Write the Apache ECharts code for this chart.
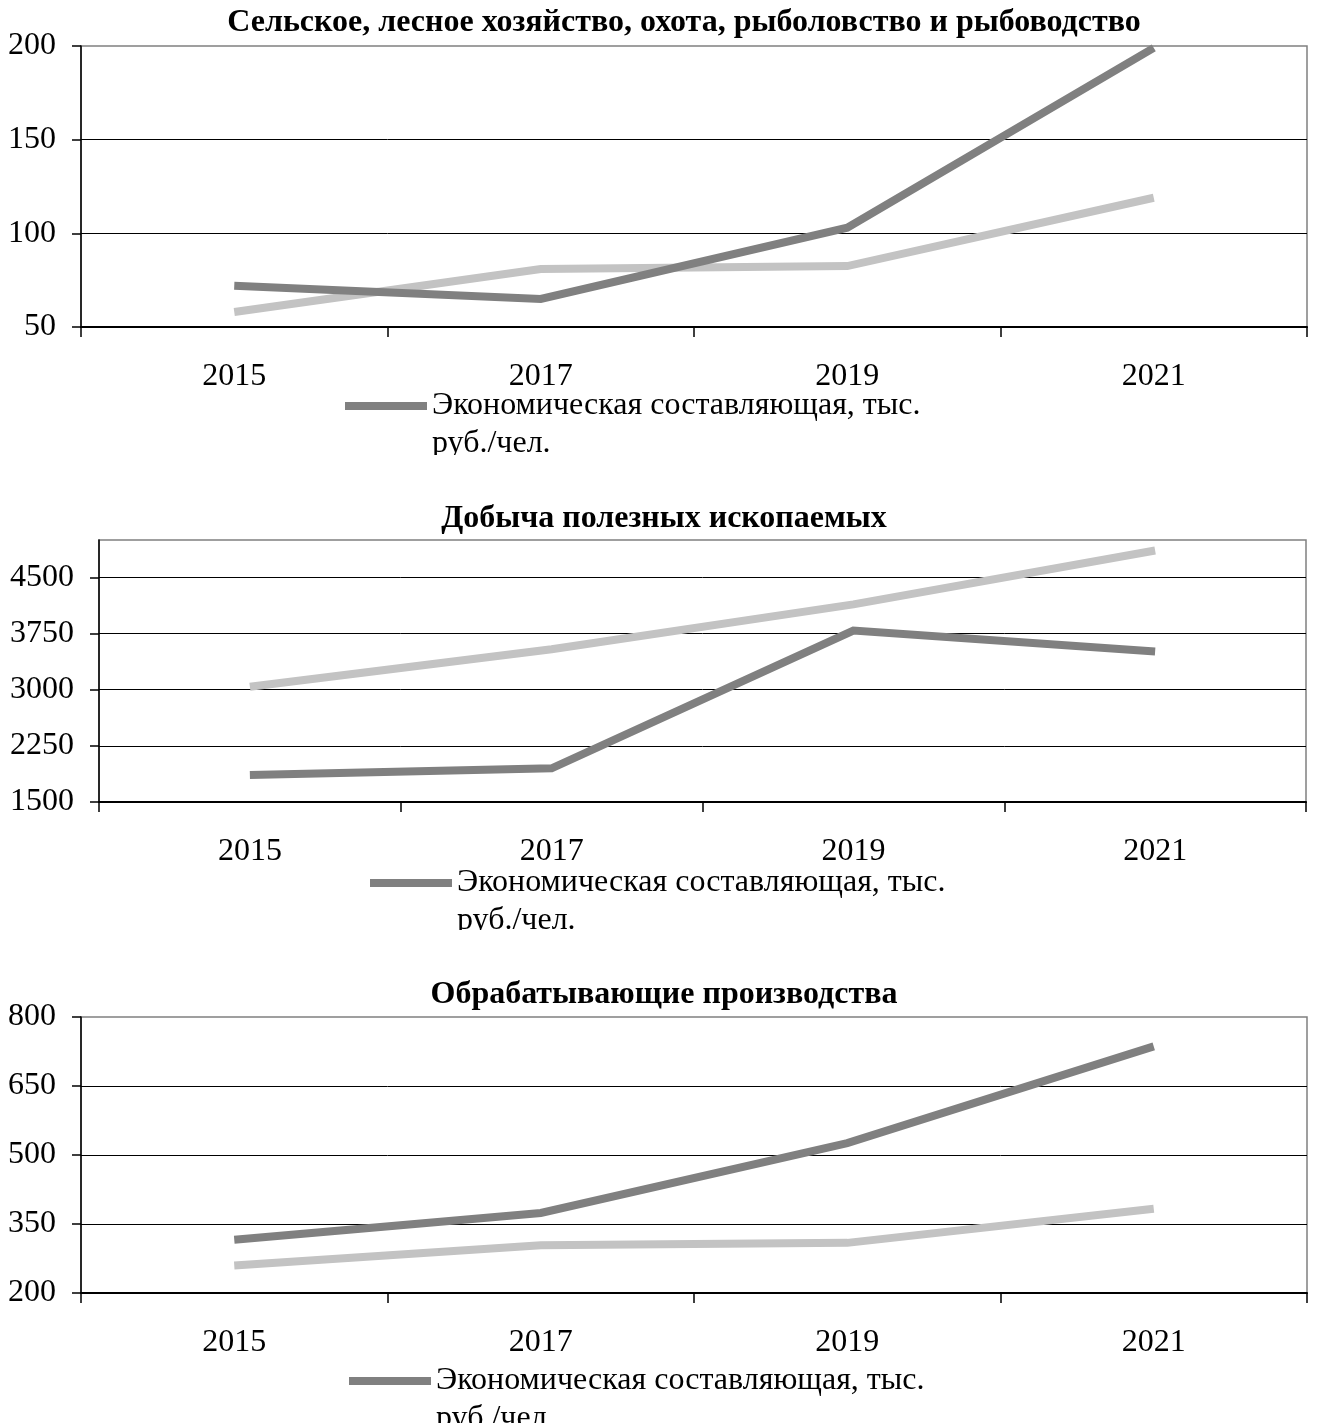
<!DOCTYPE html>
<html>
<head>
<meta charset="utf-8">
<script src="https://cdn.jsdelivr.net/npm/echarts@6/dist/echarts.min.js"></script>
<style>
  html, body { margin: 0; padding: 0; background: #ffffff; }
  #chart { width: 1317px; height: 1423px; }
</style>
</head>
<body>
<div id="chart"></div>
<script>
// ---- data ----
const years = ['2015', '2017', '2019', '2021'];
const econName = 'Экономическая составляющая, тыс. руб./чел.';
const otherName = 'Социальная составляющая';

const panelTitles = [
  'Сельское, лесное хозяйство, охота, рыболовство и рыбоводство',
  'Добыча полезных ископаемых',
  'Обрабатывающие производства'
];

const agriEcon = [72, 65, 103, 199];
const agriOther = [58, 81, 82.5, 119];

const miningEcon = [1860, 1950, 3790, 3510];
const miningOther = [3040, 3540, 4140, 4860];

const manufEcon = [316, 374, 526, 736];
const manufOther = [260, 304, 309, 383];

const yMins = [50, 1500, 200];
const yMaxs = [200, 5000, 800];
const yIntervals = [50, 750, 150];

// ---- layout / style ----
const FONT = "'Liberation Serif', 'Times New Roman', serif";
const DARK = '#808080';
const LIGHT = '#c3c3c3';

const grids = [
  { left: 81, right: 10, top: 46, height: 281 },
  { left: 99, right: 11, top: 540, height: 262 },
  { left: 81, right: 10, top: 1017, height: 276 }
];
const titlePos = [
  { left: 684, top: 7 },
  { left: 664, top: 503 },
  { left: 664, top: 979 }
];
const legendPos = [
  { left: 345, top: 349 },
  { left: 370, top: 826 },
  { left: 349, top: 1324 }
];

const econSeries = [agriEcon, miningEcon, manufEcon];
const otherSeries = [agriOther, miningOther, manufOther];

const option = {
  backgroundColor: '#ffffff',
  animation: false,
  textStyle: { fontFamily: FONT, color: '#000' },
  title: panelTitles.map((t, i) => ({
    text: t,
    left: titlePos[i].left,
    top: titlePos[i].top,
    textAlign: 'center',
    padding: 0,
    textStyle: { fontFamily: FONT, fontSize: 32, fontWeight: 'bold', color: '#000' }
  })),
  legend: legendPos.map((p) => ({
    data: [econName],
    left: p.left,
    top: p.top,
    padding: 0,
    orient: 'horizontal',
    icon: 'rect',
    itemWidth: 82,
    itemHeight: 8,
    selectedMode: false,
    formatter: () => ' \nЭкономическая составляющая, тыс.\nруб./чел.',
    textStyle: { fontFamily: FONT, fontSize: 32, color: '#000', lineHeight: 38 }
  })),
  grid: grids.map(g => Object.assign({
    show: true, borderColor: '#808080', borderWidth: 1.5,
    backgroundColor: 'transparent', containLabel: false
  }, g)),
  xAxis: grids.map((g, i) => ({
    type: 'category',
    gridIndex: i,
    data: years,
    boundaryGap: true,
    axisLine: { show: true, lineStyle: { color: '#000', width: 2 } },
    axisTick: { show: true, length: 10, lineStyle: { color: '#000', width: 1.5 } },
    axisLabel: { fontFamily: FONT, fontSize: 32, color: '#000', margin: 34 },
    splitLine: { show: false }
  })),
  yAxis: grids.map((g, i) => ({
    type: 'value',
    gridIndex: i,
    min: yMins[i],
    max: yMaxs[i],
    interval: yIntervals[i],
    axisLine: { show: true, lineStyle: { color: '#000', width: 1.5 } },
    axisTick: { show: true, length: 9, lineStyle: { color: '#000', width: 1.5 } },
    axisLabel: {
      fontFamily: FONT, fontSize: 32, color: '#000', margin: 25,
      showMaxLabel: i !== 1,
      formatter: (v) => String(v)
    },
    splitLine: { show: true, showMaxLine: false, lineStyle: { color: '#000', width: 1 } }
  })),
  series: [].concat(...grids.map((g, i) => [
    {
      name: otherName,
      type: 'line',
      xAxisIndex: i, yAxisIndex: i,
      data: otherSeries[i],
      showSymbol: false,
      symbol: 'none',
      lineStyle: { color: LIGHT, width: 8, cap: 'butt', join: 'miter' },
      itemStyle: { color: LIGHT },
      z: 3
    },
    {
      name: econName,
      type: 'line',
      xAxisIndex: i, yAxisIndex: i,
      data: econSeries[i],
      showSymbol: false,
      symbol: 'none',
      lineStyle: { color: DARK, width: 8, cap: 'butt', join: 'miter' },
      itemStyle: { color: DARK },
      z: 4
    }
  ])),
  graphic: [
    { type: 'rect', shape: { x: 420, y: 455, width: 330, height: 24 }, style: { fill: '#ffffff' }, z: 100 },
    { type: 'rect', shape: { x: 445, y: 930, width: 330, height: 24 }, style: { fill: '#ffffff' }, z: 100 }
  ]
};

const chart = echarts.init(document.getElementById('chart'), null, { renderer: 'canvas' });
chart.setOption(option);
</script>
</body>
</html>
